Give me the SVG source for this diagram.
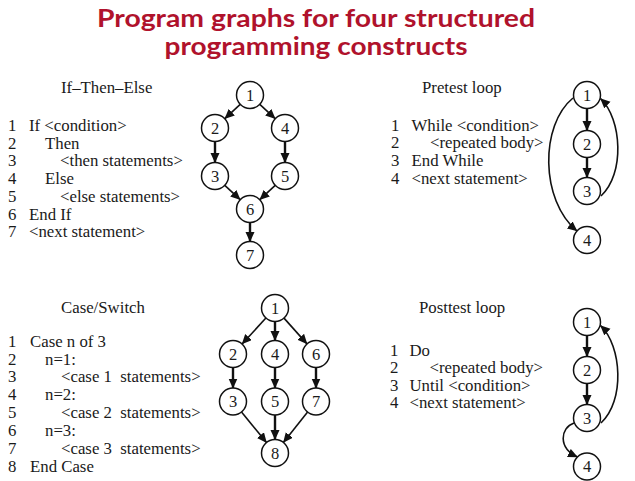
<svg xmlns="http://www.w3.org/2000/svg" width="635" height="481" viewBox="0 0 635 481">
<defs>
<marker id="ah" markerUnits="userSpaceOnUse" markerWidth="11" markerHeight="10" refX="9.5" refY="4.5" orient="auto">
<path d="M0,0 L10,4.5 L0,9 z" fill="#111"/>
</marker>
<style>
.title{font-family:Lato,"Liberation Sans",sans-serif;font-weight:bold;font-size:25px;fill:#b0122c;text-anchor:middle}
.t{font-family:"Liberation Serif",serif;font-size:16.8px;fill:#1a1a1a;white-space:pre}
.n circle{fill:#fff;stroke:#111;stroke-width:1.5}
.n text{font-family:"Liberation Serif",serif;font-size:16.5px;fill:#1a1a1a;text-anchor:middle}
.e{fill:none;stroke:#111;stroke-width:1.6;marker-end:url(#ah)}
.v{stroke-width:2.4}
</style>
</defs>
<rect width="635" height="481" fill="#fff"/>

<g id="title">
<text class="title" x="316" y="27" textLength="438" lengthAdjust="spacingAndGlyphs">Program graphs for four structured</text>
<text class="title" x="316" y="55" textLength="303" lengthAdjust="spacingAndGlyphs">programming constructs</text>
</g>

<!-- If-Then-Else -->
<g id="ifthenelse-code">
<text class="t" x="61" y="93">If–Then–Else</text>
<text class="t" x="8" y="131">1</text><text class="t" x="29" y="131">If &lt;condition&gt;</text>
<text class="t" x="8" y="148.7">2</text><text class="t" x="45" y="148.7">Then</text>
<text class="t" x="8" y="166.4">3</text><text class="t" x="60" y="166.4">&lt;then statements&gt;</text>
<text class="t" x="8" y="184.1">4</text><text class="t" x="45" y="184.1">Else</text>
<text class="t" x="8" y="201.8">5</text><text class="t" x="60" y="201.8">&lt;else statements&gt;</text>
<text class="t" x="8" y="219.5">6</text><text class="t" x="29" y="219.5">End If</text>
<text class="t" x="8" y="237.2">7</text><text class="t" x="29" y="237.2">&lt;next statement&gt;</text>
</g>

<!-- Pretest -->
<g id="pretest-code">
<text class="t" x="422" y="93">Pretest loop</text>
<text class="t" x="391" y="130.5">1</text><text class="t" x="411.5" y="130.5">While &lt;condition&gt;</text>
<text class="t" x="391" y="148.3">2</text><text class="t" x="430" y="148.3">&lt;repeated body&gt;</text>
<text class="t" x="391" y="166">3</text><text class="t" x="411.5" y="166">End While</text>
<text class="t" x="391" y="183.8">4</text><text class="t" x="411.5" y="183.8">&lt;next statement&gt;</text>
</g>

<!-- Case -->
<g id="case-code">
<text class="t" x="61" y="312.5">Case/Switch</text>
<text class="t" x="8" y="346.7">1</text><text class="t" x="30" y="346.7">Case n of 3</text>
<text class="t" x="8" y="364.5">2</text><text class="t" x="45" y="364.5">n=1:</text>
<text class="t" x="8" y="382.4">3</text><text class="t" x="61" y="382.4">&lt;case 1  statements&gt;</text>
<text class="t" x="8" y="400.2">4</text><text class="t" x="45" y="400.2">n=2:</text>
<text class="t" x="8" y="418.1">5</text><text class="t" x="61" y="418.1">&lt;case 2  statements&gt;</text>
<text class="t" x="8" y="435.9">6</text><text class="t" x="45" y="435.9">n=3:</text>
<text class="t" x="8" y="453.8">7</text><text class="t" x="61" y="453.8">&lt;case 3  statements&gt;</text>
<text class="t" x="8" y="471.6">8</text><text class="t" x="30" y="471.6">End Case</text>
</g>

<!-- Posttest -->
<g id="posttest-code">
<text class="t" x="419" y="312.5">Posttest loop</text>
<text class="t" x="390" y="355.7">1</text><text class="t" x="409.5" y="355.7">Do</text>
<text class="t" x="390" y="373.3">2</text><text class="t" x="429.5" y="373.3">&lt;repeated body&gt;</text>
<text class="t" x="390" y="390.8">3</text><text class="t" x="409.5" y="390.8">Until &lt;condition&gt;</text>
<text class="t" x="390" y="408.4">4</text><text class="t" x="409.5" y="408.4">&lt;next statement&gt;</text>
</g>

<g id="connectors">
<!-- If -->
<path class="e" d="M240.2,104.3 L224.8,118.7"/>
<path class="e" d="M259.8,104.3 L275.2,118.7"/>
<path class="e v" d="M215,141.5 L215,162.5"/>
<path class="e v" d="M285,141.5 L285,162.5"/>
<path class="e" d="M224.8,185.3 L240.2,199.7"/>
<path class="e" d="M275.2,185.3 L259.8,199.7"/>
<path class="e v" d="M250,222.5 L250,241.5"/>
<!-- Pretest -->
<path class="e v" d="M587,108.5 L587,130.5"/>
<path class="e v" d="M587,157.5 L587,177.5"/>
<path class="e" d="M601,196 C625,174 622,119 600.5,98.5"/>
<path class="e" d="M573,98 C540,125 540,200 577,231"/>
<!-- Case -->
<path class="e" d="M265.9,318 L242.1,344"/>
<path class="e v" d="M275,321.5 L275,340.5"/>
<path class="e" d="M284,318.1 L307,343.9"/>
<path class="e v" d="M233,367.5 L233,388"/>
<path class="e v" d="M275,367.5 L275,388"/>
<path class="e v" d="M316,367.5 L316,388"/>
<path class="e" d="M241.5,412 L266.5,442.5"/>
<path class="e v" d="M275,415 L275,439.5"/>
<path class="e" d="M307.6,412.1 L283.4,442.4"/>
<!-- Posttest -->
<path class="e v" d="M587,335.5 L587,356.5"/>
<path class="e v" d="M587,383.5 L587,404.5"/>
<path class="e" d="M601,423 C625,401 622,346 600.5,325.5"/>
<path class="e" d="M574,423 C560,428 558,448 577.5,457"/>
</g>

<!-- If nodes -->
<g id="if-n1" class="n"><circle cx="250" cy="95" r="13.5"/><text x="250" y="100.5">1</text></g>
<g id="if-n2" class="n"><circle cx="215" cy="128" r="13.5"/><text x="215" y="133.5">2</text></g>
<g id="if-n4" class="n"><circle cx="285" cy="128" r="13.5"/><text x="285" y="133.5">4</text></g>
<g id="if-n3" class="n"><circle cx="215" cy="176" r="13.5"/><text x="215" y="181.5">3</text></g>
<g id="if-n5" class="n"><circle cx="285" cy="176" r="13.5"/><text x="285" y="181.5">5</text></g>
<g id="if-n6" class="n"><circle cx="250" cy="209" r="13.5"/><text x="250" y="214.5">6</text></g>
<g id="if-n7" class="n"><circle cx="250" cy="255" r="13.5"/><text x="250" y="260.5">7</text></g>

<!-- Pretest nodes -->
<g id="pre-n1" class="n"><circle cx="587" cy="95" r="13.5"/><text x="587" y="100.5">1</text></g>
<g id="pre-n2" class="n"><circle cx="587" cy="144" r="13.5"/><text x="587" y="149.5">2</text></g>
<g id="pre-n3" class="n"><circle cx="587" cy="191" r="13.5"/><text x="587" y="196.5">3</text></g>
<g id="pre-n4" class="n"><circle cx="587" cy="240" r="13.5"/><text x="587" y="245.5">4</text></g>

<!-- Case nodes -->
<g id="case-n1" class="n"><circle cx="275" cy="308" r="13.5"/><text x="275" y="313.5">1</text></g>
<g id="case-n2" class="n"><circle cx="233" cy="354" r="13.5"/><text x="233" y="359.5">2</text></g>
<g id="case-n4" class="n"><circle cx="275" cy="354" r="13.5"/><text x="275" y="359.5">4</text></g>
<g id="case-n6" class="n"><circle cx="316" cy="354" r="13.5"/><text x="316" y="359.5">6</text></g>
<g id="case-n3" class="n"><circle cx="233" cy="401.5" r="13.5"/><text x="233" y="407">3</text></g>
<g id="case-n5" class="n"><circle cx="275" cy="401.5" r="13.5"/><text x="275" y="407">5</text></g>
<g id="case-n7" class="n"><circle cx="316" cy="401.5" r="13.5"/><text x="316" y="407">7</text></g>
<g id="case-n8" class="n"><circle cx="275" cy="453" r="13.5"/><text x="275" y="458.5">8</text></g>

<!-- Posttest nodes -->
<g id="post-n1" class="n"><circle cx="587" cy="322" r="13.5"/><text x="587" y="327.5">1</text></g>
<g id="post-n2" class="n"><circle cx="587" cy="370" r="13.5"/><text x="587" y="375.5">2</text></g>
<g id="post-n3" class="n"><circle cx="587" cy="418" r="13.5"/><text x="587" y="423.5">3</text></g>
<g id="post-n4" class="n"><circle cx="587" cy="466.5" r="13.5"/><text x="587" y="472">4</text></g>
</svg>
